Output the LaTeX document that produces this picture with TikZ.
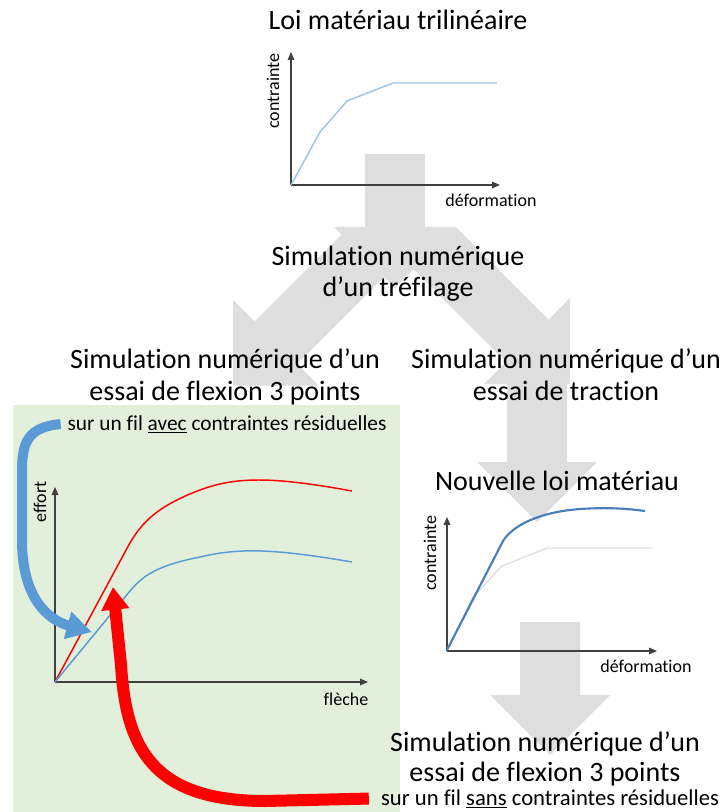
\documentclass[tikz,border=0pt]{standalone}
\usepackage{fontspec}
\setmainfont{Carlito}[Ligatures=NoCommon]
\usepackage{tikz}
\usepackage{xcolor}
\usetikzlibrary{arrows.meta,positioning}
\definecolor{flowgray}{HTML}{DEDEDE}
\definecolor{panelgreen}{HTML}{E2EFDA}
\definecolor{axisink}{HTML}{404040}
\definecolor{lawblue}{HTML}{9DC3E6}
\definecolor{avecblue}{HTML}{5B9BD5}
\definecolor{newblue}{HTML}{4A7EBB}
\definecolor{oldgray}{HTML}{E0E0E0}
\definecolor{sansred}{HTML}{FF0000}
\tikzset{
  flowArrow/.style={fill=flowgray, draw=none},
  titleLabel/.style={font=\fontsize{21}{24}\selectfont, align=center, inner sep=0pt},
  noteLabel/.style={font=\fontsize{16}{19}\selectfont, inner sep=0pt},
  axisLabel/.style={font=\fontsize{13.5}{16}\selectfont, inner sep=0pt},
  axisArrow/.style={-{Triangle[length=6pt,width=5pt]}, draw=axisink, line width=0.8pt},
  lawCurve/.style={line width=1.1pt, line join=round},
  avecArrow/.style={-{Triangle[length=19pt,width=20pt]}, draw=avecblue, line width=7.5pt},
  sansArrow/.style={-{Triangle[length=17pt,width=20pt]}, draw=sansred, line width=9pt}
}

\begin{document}
\begin{tikzpicture}[x=0.75pt,y=-0.75pt]
  \useasboundingbox (0,0) rectangle (723,812);
  \fill[panelgreen] (13,405) rectangle (400,812);
  % grey flow arrows
  \fill[flowArrow] (365,154) -- (425,154) -- (425,227) -- (455,227) -- (395,288) -- (334,227) -- (365,227) -- cycle;
  \fill[flowArrow] (254.6,321.6) -- (341.6,234.6) -- (384,277) -- (297,364) -- cycle;
  \fill[flowArrow] (233,300) -- (318.6,385.6) -- (233,385.6) -- cycle;
  \fill[flowArrow] (548.4,319.6) -- (455.4,226.6) -- (413,269) -- (506,362) -- cycle;
  \fill[flowArrow] (570,298) -- (484,384) -- (570,384) -- cycle;
  \fill[flowArrow] (507,375) -- (567,375) -- (567,462) -- (597,462) -- (537,522) -- (477,462) -- (507,462) -- cycle;
  \fill[flowArrow] (520,622) -- (580,622) -- (580,695) -- (610,695) -- (550,755) -- (490,695) -- (520,695) -- cycle;

  % trilinear law
  \draw[axisArrow] (291,185) -- (291,52);
  \draw[axisArrow] (291,185) -- (500,185);
  \draw[lawblue, lawCurve] (291,185) -- (320,132) -- (347,101) -- (393,83) -- (497,83);
  \node[axisLabel, rotate=90] (sigTop) at (273,91) {contrainte};
  \node[axisLabel, anchor=base] (epsTop) at (491,207) {déformation};

  % bending curves
  \draw[axisArrow] (55,682) -- (55,487);
  \draw[axisArrow] (55,682) -- (368,682);
  \draw[sansred, lawCurve] (55,682) -- (125,552) .. controls (138,527) and (152,508) .. (200,490) .. controls (235,477) and (270,476) .. (352,491);
  \draw[avecblue, lawCurve] (55,682) -- (130,591) .. controls (144,574) and (160,565) .. (200,557) .. controls (235,549) and (265,547) .. (352,562);
  \node[axisLabel, rotate=90] (forceLbl) at (40,502) {effort};
  \node[axisLabel, anchor=base] (flecheLbl) at (346,705) {flèche};

  % new law
  \draw[axisArrow] (447,651) -- (447,517);
  \draw[axisArrow] (447,651) -- (657,651);
  \draw[oldgray, lawCurve] (447,650) -- (473,597) -- (502,566) -- (547,548) -- (652,548);
  \draw[newblue, line width=1.6pt, line join=round] (447,650) -- (503,541) .. controls (513,525) and (540,512) .. (580,509) .. controls (610,507) and (630,509) .. (645,511);
  \node[axisLabel, rotate=90] (sigNew) at (430,553) {contrainte};
  \node[axisLabel, anchor=base] (epsNew) at (646,672) {déformation};

  % titles
  \node[titleLabel, anchor=base] (loiTitle) at (398,30) {Loi matériau trilinéaire};
  \node[titleLabel, anchor=base] (trefTitle) at (398,297) {Simulation numérique\\d’un tréfilage};
  \node[titleLabel, anchor=base] (flexTitle) at (225,400) {Simulation numérique d’un\\essai de flexion 3 points};
  \node[titleLabel, anchor=base] (tracTitle) at (566,400) {Simulation numérique d’un\\essai de traction};
  \node[titleLabel, anchor=base] (nouvTitle) at (557,490) {Nouvelle loi matériau};
  \node[titleLabel, anchor=base, font=\fontsize{21}{22}\selectfont] (flexSansTitle) at (545,781) {Simulation numérique d’un\\essai de flexion 3 points};
  \node[noteLabel, anchor=base] (avecLbl) at (227,430) {sur un fil \underline{avec} contraintes résiduelles};
  \node[noteLabel, anchor=base, font=\fontsize{17}{19}\selectfont] (sansLbl) at (550,805) {sur un fil \underline{sans} contraintes résiduelles};

  % thick arrows
  \coordinate (avecTip) at (92,632);
  \coordinate (sansTip) at (113,587);
  \draw[avecArrow] ([xshift=-5pt]avecLbl.west) .. controls (30,427) and (22,440) .. (22,470) -- (22,540) .. controls (22,598) and (48,620) .. (avecTip);
  \draw[sansArrow] ([xshift=-9pt]sansLbl.west) -- (265,801) .. controls (150,801) and (126,745) .. (121,665) -- (sansTip);
\end{tikzpicture}
\end{document}
